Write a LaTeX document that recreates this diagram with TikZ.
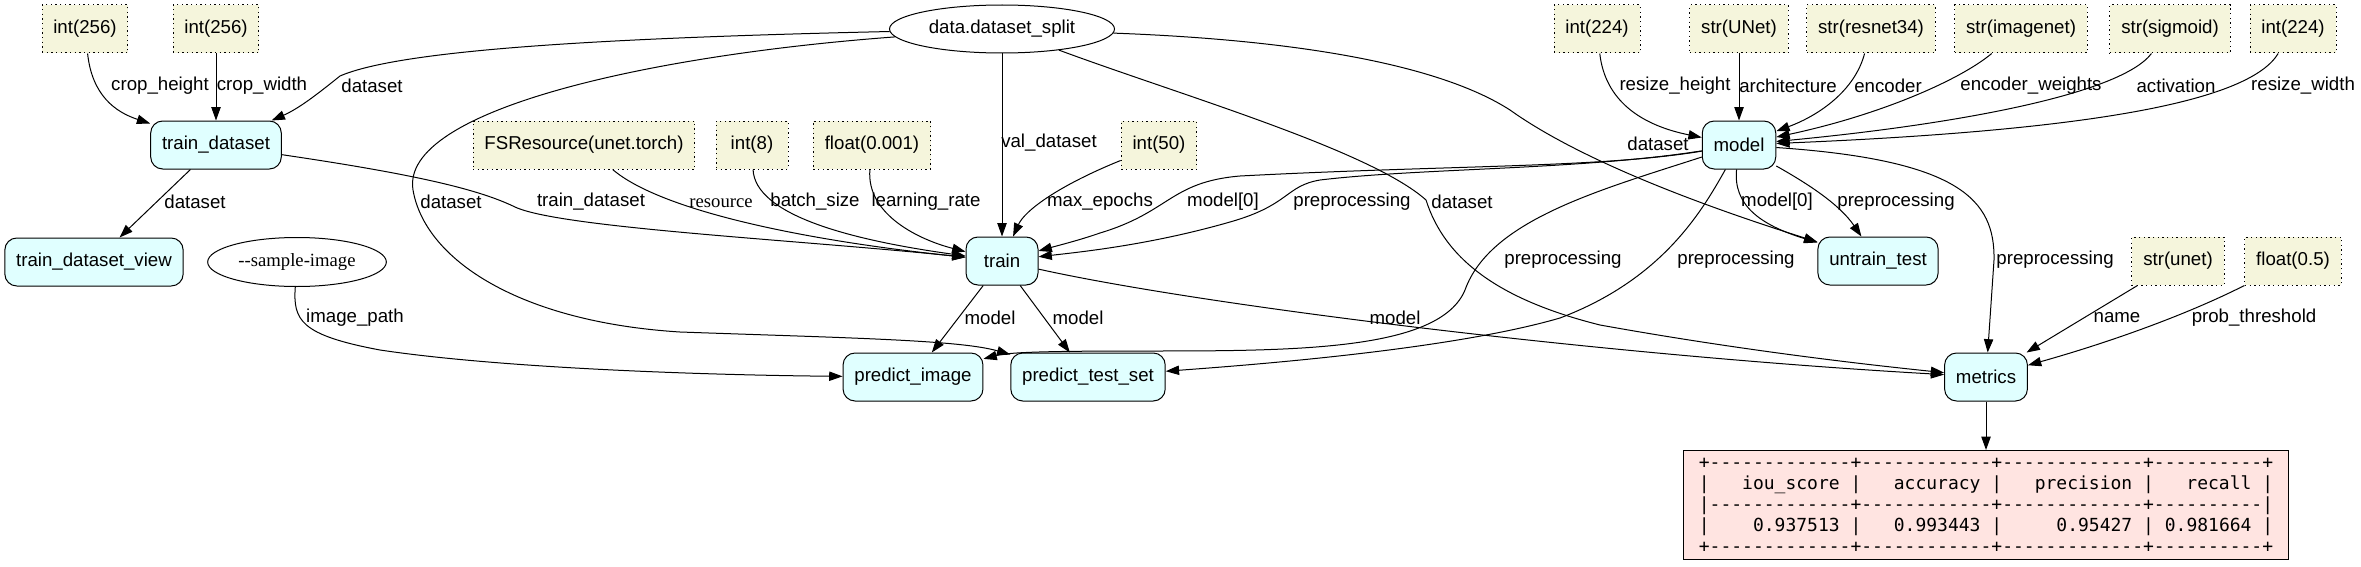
\documentclass[tikz,border=0pt]{standalone}
\usepackage{fontspec}
\setmainfont{Liberation Sans}
\setmonofont{DejaVu Sans Mono}
\newfontfamily\serifface{Liberation Serif}
\usetikzlibrary{arrows.meta,shapes.geometric}
\definecolor{fncyan}{RGB}{224,255,255}
\definecolor{cbeige}{RGB}{245,245,220}
\definecolor{tblrose}{RGB}{255,228,225}

\begin{document}
\begin{tikzpicture}[
    x=0.75pt, y=-0.75pt, line width=0.75pt,
    every node/.style={font=\fontsize{14}{16}\selectfont},
    fn/.style={draw, rounded corners=9pt, fill=fncyan, minimum width=54pt, minimum height=36pt, inner xsep=8.5pt},
    cst/.style={draw, dash pattern=on 1pt off 2.5pt, fill=cbeige, minimum width=54pt, minimum height=36pt, inner xsep=8.5pt},
    src/.style={draw, ellipse, inner sep=0pt},
    serif/.style={font=\serifface\fontsize{14}{16}\selectfont},
    scoretbl/.style={draw, fill=tblrose, align=left, inner sep=0pt, minimum width=453.75pt, minimum height=81.75pt, font=\ttfamily\fontsize{13.5}{15.75}\selectfont},
    lbl/.style={inner sep=0pt},
    arrow/.style={-{Triangle[length=10pt,width=7pt]}}
  ]
    \useasboundingbox (0,0) rectangle (2361,567);

    % inputs and steps
    \node[cst] (h256) at (85,29) {int(256)};
    \node[cst] (w256) at (216,29) {int(256)};
    \node[fn] (trainds) at (216,145) {train\_dataset};
    \node[fn] (trainview) at (94,262) {train\_dataset\_view};
    \node[src, serif, minimum width=134pt, minimum height=36.75pt] (sample) at (297,262) {-{}-sample-image};
    \node[src, minimum width=168.75pt, minimum height=36pt] (dsplit) at (1002,29) {data.dataset\_split};
    \node[cst] (fsres) at (584,145) {FSResource(unet.torch)};
    \node[cst] (bsize) at (752,145) {int(8)};
    \node[cst] (lrate) at (872,145) {float(0.001)};
    \node[cst] (epochs) at (1159,145) {int(50)};
    \node[fn] (train) at (1002,261) {train};
    \node[fn] (predimg) at (913,377) {predict\_image};
    \node[fn] (predtest) at (1088,377) {predict\_test\_set};
    \node[cst] (rheight) at (1597,29) {int(224)};
    \node[cst] (arch) at (1739,29) {str(UNet)};
    \node[cst] (encoder) at (1871,29) {str(resnet34)};
    \node[cst] (weights) at (2021,29) {str(imagenet)};
    \node[cst] (activ) at (2170,29) {str(sigmoid)};
    \node[cst] (rwidth) at (2293,29) {int(224)};
    \node[fn] (model) at (1739,145) {model};
    \node[fn] (untrain) at (1878,261) {untrain\_test};
    \node[cst] (mname) at (2178,261) {str(unet)};
    \node[cst] (thresh) at (2293,261) {float(0.5)};
    \node[fn] (metrics) at (1986,377) {metrics};
    \node[scoretbl] (scores) at (1986,505) {%
+-------------+------------+-------------+----------+\\
|~~~iou\_score~|~~~accuracy~|~~~precision~|~~~recall~|\\
|-------------+------------+-------------+----------|\\
|~~~~0.937513~|~~~0.993443~|~~~~~0.95427~|~0.981664~|\\
+-------------+------------+-------------+----------+};

    % train_dataset
    \draw[arrow] (h256) .. controls (92,95) and (115,112) .. (trainds);
    \draw[arrow] (w256) -- (trainds);
    \draw[arrow] (dsplit) .. controls (600,38) and (400,50) .. (340,76) .. controls (320,92) and (300,108) .. (trainds);
    \draw[arrow] (trainds) -- (trainview);

    % train
    \draw[arrow] (trainds) .. controls (420,175) and (480,190) .. (515,207) .. controls (560,228) and (800,240) .. (train);
    \draw[arrow] (fsres) .. controls (660,210) and (800,240) .. (train);
    \draw[arrow] (bsize) .. controls (755,215) and (850,240) .. (train);
    \draw[arrow] (lrate) .. controls (866,215) and (920,240) .. (train);
    \draw[arrow] (dsplit) -- (train);
    \draw[arrow] (epochs) .. controls (1060,185) and (1025,210) .. (train);
    \draw[arrow] (model) .. controls (1600,168) and (1450,165) .. (1240,176) .. controls (1170,182) and (1170,212) .. (1100,233) .. controls (1080,240) and (1060,245) .. (train);
    \draw[arrow] (model) .. controls (1580,170) and (1420,168) .. (1320,180) .. controls (1285,186) and (1290,205) .. (1230,222) .. controls (1150,245) and (1080,252) .. (train);

    % model
    \draw[arrow] (rheight) .. controls (1605,100) and (1640,125) .. (model);
    \draw[arrow] (arch) -- (model);
    \draw[arrow] (encoder) .. controls (1855,90) and (1820,115) .. (model);
    \draw[arrow] (weights) .. controls (1960,80) and (1880,115) .. (model);
    \draw[arrow] (activ) .. controls (2120,95) and (1950,125) .. (model);
    \draw[arrow] (rwidth) .. controls (2250,100) and (2100,130) .. (model);

    % untrain_test
    \draw[arrow] (dsplit) .. controls (1300,40) and (1440,65) .. (1510,110) .. controls (1580,160) and (1700,205) .. (untrain);
    \draw[arrow] (model) .. controls (1733,205) and (1760,225) .. (untrain);
    \draw[arrow] (model) .. controls (1810,185) and (1840,205) .. (untrain);

    % predictions
    \draw[arrow] (train) -- (predimg);
    \draw[arrow] (train) -- (predtest);
    \draw[arrow] (sample) .. controls (293,320) and (300,335) .. (380,350) .. controls (500,368) and (700,375) .. (predimg);
    \draw[arrow] (model) .. controls (1600,190) and (1490,220) .. (1465,290) .. controls (1440,350) and (1300,351) .. (1150,351) .. controls (1050,351) and (1010,352) .. (predimg);
    \draw[arrow] (dsplit) .. controls (650,55) and (400,110) .. (413,190) .. controls (425,260) and (520,322) .. (680,332) .. controls (850,338) and (960,340) .. (predtest);
    \draw[arrow] (model) .. controls (1700,215) and (1660,280) .. (1560,318) .. controls (1450,350) and (1250,365) .. (predtest);

    % metrics
    \draw[arrow] (train) .. controls (1200,305) and (1600,355) .. (metrics);
    \draw[arrow] (dsplit) .. controls (1180,95) and (1370,150) .. (1426,200) .. controls (1445,260) and (1500,300) .. (1600,325) .. controls (1750,352) and (1880,366) .. (metrics);
    \draw[arrow] (model) .. controls (1960,160) and (1995,200) .. (1994,260) -- (metrics);
    \draw[arrow] (mname) -- (metrics);
    \draw[arrow] (thresh) .. controls (2180,318) and (2100,345) .. (metrics);
    \draw[arrow] (metrics) -- (scores);

    % edge labels
    \node[lbl] (lcroph) at (160,86) {crop\_height};
    \node[lbl] (lcropw) at (262,86) {crop\_width};
    \node[lbl] (ltdsrc) at (372,86) {dataset};
    \node[lbl] (lview) at (195,202) {dataset};
    \node[lbl] (ltestds) at (451,202) {dataset};
    \node[lbl] (ltrainds) at (591,202) {train\_dataset};
    \node[lbl, serif] (lres) at (721,203) {resource};
    \node[lbl] (lbatch) at (815,202) {batch\_size};
    \node[lbl] (llr) at (926,202) {learning\_rate};
    \node[lbl] (lval) at (1049,143) {val\_dataset};
    \node[lbl] (lepochs) at (1100,202) {max\_epochs};
    \node[lbl] (lm0train) at (1223,202) {model[0]};
    \node[lbl] (lpptrain) at (1352,202) {preprocessing};
    \node[lbl] (lmetds) at (1462,202) {dataset};
    \node[lbl] (luntds) at (1658,144) {dataset};
    \node[lbl] (lrh) at (1675,86) {resize\_height};
    \node[lbl] (larch) at (1788,86) {architecture};
    \node[lbl] (lenc) at (1888,86) {encoder};
    \node[lbl] (lencw) at (2031,86) {encoder\_weights};
    \node[lbl] (lact) at (2176,86) {activation};
    \node[lbl] (lrw) at (2303,86) {resize\_width};
    \node[lbl] (lm0unt) at (1777,202) {model[0]};
    \node[lbl] (lppunt) at (1896,202) {preprocessing};
    \node[lbl] (lppimg) at (1563,260) {preprocessing};
    \node[lbl] (lpptest) at (1736,260) {preprocessing};
    \node[lbl] (lppmet) at (2055,260) {preprocessing};
    \node[lbl] (lname) at (2117,318) {name};
    \node[lbl] (lthr) at (2254,318) {prob\_threshold};
    \node[lbl] (limg) at (355,318) {image\_path};
    \node[lbl] (lmimg) at (990,318) {model};
    \node[lbl] (lmtest) at (1078,318) {model};
    \node[lbl] (lmmet) at (1395,318) {model};
  \end{tikzpicture}
\end{document}
